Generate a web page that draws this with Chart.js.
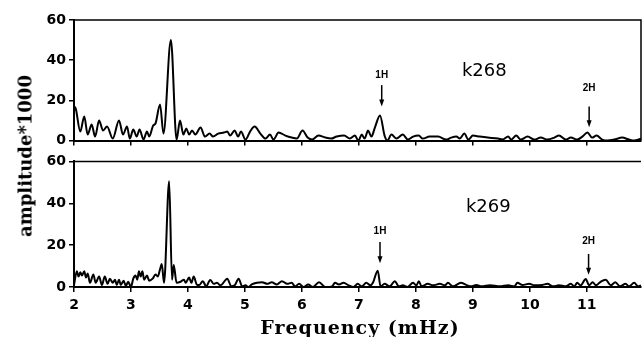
<!DOCTYPE html>
<html>
<head>
<meta charset="utf-8">
<script src="https://cdn.jsdelivr.net/npm/chart.js@4.4.1/dist/chart.umd.min.js"></script>
<style>
  body { margin: 0; background: #fff; width: 642px; height: 337px; position: relative; overflow: hidden; }
  canvas { position: absolute; left: 0; }
  #topChart { top: 0; }
  #botChart { top: 150px; }
  #ytitle { position: absolute; left: 25px; top: 156px; transform: translate(-50%, -50%) rotate(-90deg);
            font: bold 18px "DejaVu Serif"; white-space: nowrap; color: #000; }
  #xtitle { position: absolute; left: 360px; top: 327px; transform: translate(-50%, -50%);
            font: bold 19px "DejaVu Serif"; letter-spacing: 1px; white-space: nowrap; color: #000; }
</style>
</head>
<body>
<canvas id="topChart" width="642" height="152"></canvas>
<canvas id="botChart" width="642" height="187"></canvas>
<div id="ytitle">amplitude*1000</div>
<div id="xtitle">Frequency (mHz)</div>
<script>
// k268 spectrum (frequency in mHz, amplitude*1000)
const freqTop = [2.0, 2.03, 2.11, 2.18, 2.24, 2.31, 2.37, 2.44, 2.51, 2.58, 2.68, 2.79, 2.86, 2.93, 2.98,
  3.04, 3.10, 3.15, 3.22, 3.28, 3.32, 3.39, 3.43, 3.51, 3.57, 3.70, 3.80, 3.86, 3.92, 3.97,
  4.02, 4.07, 4.13, 4.22, 4.30, 4.38, 4.44, 4.53, 4.63, 4.69, 4.74, 4.82, 4.88, 4.93,
  5.01, 5.09, 5.17, 5.27, 5.36, 5.44, 5.50, 5.59, 5.71, 5.82, 5.91,
  6.01, 6.10, 6.18, 6.29, 6.41, 6.51, 6.61, 6.74, 6.84, 6.93, 6.99,
  7.05, 7.10, 7.16, 7.22, 7.28, 7.37, 7.45, 7.50, 7.57, 7.66, 7.77, 7.86, 7.95,
  8.05, 8.12, 8.24, 8.39, 8.53, 8.62, 8.71, 8.77, 8.85, 8.92,
  9.00, 9.12, 9.26, 9.44, 9.52, 9.62, 9.67, 9.76, 9.84, 9.96,
  10.08, 10.19, 10.31, 10.43, 10.51, 10.63, 10.72, 10.83, 10.92,
  11.01, 11.09, 11.17, 11.27, 11.36, 11.48, 11.62, 11.74, 11.83, 11.95];
const ampTop = [17, 16, 4.5, 12, 3, 8, 2, 10, 5, 7, 1, 10, 3, 7, 1,
  5.5, 2, 5.5, 0.5, 4.5, 2, 7.5, 8.5, 18, 3.5, 50, 0.5, 10, 3, 6,
  3, 5, 3, 6.5, 2, 3.5, 2, 3.5, 4, 4.5, 2.5, 5, 2, 4.5,
  0.5, 4.5, 7, 3.5, 1, 3, 0.5, 4, 2.5, 1.5, 1,
  5, 1.5, 0.5, 2.5, 1.5, 1, 2, 2.5, 1, 2.5, 0,
  3, 1, 5, 2, 6.5, 12.5, 2.5, 0, 3, 1, 3, 0.5, 2,
  2.5, 1, 2, 2, 0.5, 1.5, 2, 1, 3.5, 0.5,
  2.5, 2, 1.5, 1, 0.5, 2, 0.5, 2.5, 0.5, 2,
  0.5, 1.5, 0.5, 1.5, 2.5, 0.5, 1.5, 0.5, 2,
  4, 1.5, 2.5, 0.5, 0, 0.5, 1.5, 0.5, 0, 1];

// k269 spectrum
const freqBot = [2.0, 2.05, 2.08, 2.11, 2.14, 2.18, 2.21, 2.24, 2.28, 2.34, 2.38, 2.44, 2.49, 2.54, 2.59,
  2.63, 2.68, 2.72, 2.75, 2.79, 2.82, 2.87, 2.91, 2.95,
  3.0, 3.04, 3.08, 3.11, 3.14, 3.17, 3.20, 3.23, 3.28, 3.32, 3.38, 3.43, 3.47, 3.51, 3.54, 3.58,
  3.67, 3.72, 3.75, 3.80, 3.87, 3.93, 3.96,
  4.02, 4.06, 4.10, 4.16, 4.20, 4.26, 4.32, 4.39, 4.45, 4.51, 4.57, 4.69, 4.76, 4.82, 4.89, 4.95,
  5.01, 5.06, 5.12, 5.21, 5.30, 5.39, 5.47, 5.56, 5.65, 5.74, 5.82, 5.88, 5.95,
  6.03, 6.11, 6.19, 6.30, 6.41, 6.53, 6.58, 6.65, 6.73, 6.82, 6.90, 6.98,
  7.05, 7.13, 7.20, 7.25, 7.33, 7.38, 7.45, 7.54, 7.63, 7.70, 7.77, 7.85, 7.95,
  8.01, 8.05, 8.10, 8.21, 8.30, 8.42, 8.51, 8.56, 8.65, 8.79, 8.88, 8.97,
  9.06, 9.15, 9.30, 9.47, 9.62, 9.73, 9.78, 9.87, 9.99,
  10.08, 10.22, 10.31, 10.40, 10.51, 10.63, 10.72, 10.78, 10.83, 10.89, 10.98,
  11.04, 11.10, 11.16, 11.24, 11.33, 11.42, 11.50, 11.58, 11.68, 11.74, 11.83, 11.90, 11.95];
const ampBot = [1, 7.5, 5, 7, 5.5, 7.5, 4.5, 6.5, 2, 6, 2, 5, 1, 5, 1.5,
  4, 2, 3.5, 1, 3.5, 1, 3, 0.5, 2.5,
  0, 4, 5.5, 3.5, 7.5, 5, 7.5, 3.5, 5.5, 3, 4, 6, 5, 8.5, 11, 2,
  50.5, 3.5, 10.5, 2, 2.5, 3.5, 2,
  4.5, 2, 5, 1, 1, 2.8, 0.3, 3.4, 1.5, 2, 0.8, 4, 0.3, 0.8, 4, 0.3,
  0.8, 0, 1.2, 2, 2.3, 1.5, 2.3, 1.2, 2.8, 1.5, 2, 0.3, 1.5,
  0, 1.2, 0, 2.3, 0, 0.3, 2, 1.2, 2, 0.8, 0, 1.5,
  0.3, 2, 0.8, 2.3, 7.8, 0.3, 1.5, 0.3, 2.8, 0.3, 0.8, 0, 2,
  0.8, 2.8, 0.3, 1.5, 0.8, 1.5, 0.8, 2, 0.3, 2, 1, 0.3,
  1, 0.3, 0.8, 0.3, 0.8, 0.3, 2, 1, 1.5,
  0.8, 1, 1.5, 0.3, 0.8, 0.3, 1.5, 0.3, 2, 0.8, 3.8,
  0.8, 2.3, 0.8, 2.5, 3.5, 0.8, 2.3, 0.3, 1.5, 0.3, 2, 0.3, 0.8];

const yTicks = [0, 20, 40, 60];
const xTicks = [2, 3, 4, 5, 6, 7, 8, 9, 10, 11];

const tickFont = { family: 'DejaVu Sans', size: 14, weight: 'bold' };

// frame lines, run name and harmonic arrows
const marksPlugin = {
  id: 'marks',
  afterDatasetsDraw(chart, args, opts) {
    const { ctx, chartArea: a, scales: { x, y } } = chart;
    ctx.save();
    ctx.strokeStyle = '#000';
    ctx.fillStyle = '#000';
    ctx.lineWidth = 1.5;
    ctx.beginPath();
    ctx.moveTo(a.left, a.top);
    ctx.lineTo(a.right, a.top);
    if (opts.frameRight) ctx.lineTo(a.right, a.bottom);
    ctx.stroke();

    ctx.textAlign = 'center';
    ctx.textBaseline = 'middle';
    ctx.font = '18px "DejaVu Sans"';
    ctx.fillText(opts.name, x.getPixelForValue(opts.nameX), y.getPixelForValue(opts.nameY));

    ctx.font = 'bold 10px "Liberation Sans"';
    opts.arrows.forEach(m => {
      const px = x.getPixelForValue(m.f);
      const t = y.getPixelForValue(m.text);
      const y0 = y.getPixelForValue(m.from);
      const y1 = y.getPixelForValue(m.to);
      ctx.fillText(m.label, px, t);
      ctx.beginPath();
      ctx.moveTo(px, y0);
      ctx.lineTo(px, y1 - 5);
      ctx.stroke();
      ctx.beginPath();
      ctx.moveTo(px - 2.5, y1 - 7);
      ctx.lineTo(px + 2.5, y1 - 7);
      ctx.lineTo(px, y1);
      ctx.closePath();
      ctx.fill();
    });
    ctx.restore();
  }
};

function makePanel(id, freqs, amps, cfg) {
  return new Chart(document.getElementById(id), {
    type: 'line',
    data: {
      datasets: [{
        data: freqs.map((f, i) => ({ x: f, y: amps[i] })),
        borderColor: '#000',
        borderWidth: 2,
        pointRadius: 0,
        fill: false,
        cubicInterpolationMode: 'monotone'
      }]
    },
    options: {
      responsive: false,
      animation: false,
      layout: { padding: { top: cfg.padTop, right: 1, bottom: cfg.padBottom, left: 0 } },
      plugins: {
        legend: { display: false },
        tooltip: { enabled: false },
        marks: cfg.marks
      },
      scales: {
        x: {
          type: 'linear',
          min: 2,
          max: 11.95,
          afterBuildTicks: s => { s.ticks = xTicks.map(v => ({ value: v })); },
          afterFit: s => { s.height = cfg.xHeight; },
          ticks: { display: cfg.xLabels, color: '#000', font: tickFont, padding: 5, maxRotation: 0 },
          grid: { drawOnChartArea: false, drawTicks: true, tickLength: 5, color: '#000', lineWidth: 1.5 },
          border: { color: '#000', width: 2 }
        },
        y: {
          min: 0,
          max: 60,
          afterBuildTicks: s => { s.ticks = yTicks.map(v => ({ value: v })); },
          afterFit: s => { s.width = 74; },
          ticks: { color: '#000', font: tickFont, padding: 3 },
          grid: { drawOnChartArea: false, drawTicks: true, tickLength: 5, color: '#000', lineWidth: 1.5 },
          border: { color: '#000', width: 2 }
        }
      }
    },
    plugins: [marksPlugin]
  });
}

makePanel('topChart', freqTop, ampTop, {
  padTop: 20, padBottom: 1, xHeight: 5, xLabels: false,
  marks: {
    frameRight: true, name: 'k268', nameX: 9.2, nameY: 34.5,
    arrows: [
      { label: '1H', f: 7.40, text: 32.6, from: 27.6, to: 17 },
      { label: '2H', f: 11.04, text: 26, from: 17, to: 6.7 }
    ]
  }
});

makePanel('botChart', freqBot, ampBot, {
  padTop: 10, padBottom: 0, xHeight: 50, xLabels: true,
  marks: {
    frameRight: false, name: 'k269', nameX: 9.27, nameY: 38,
    arrows: [
      { label: '1H', f: 7.37, text: 26.8, from: 21.5, to: 11.4 },
      { label: '2H', f: 11.03, text: 21.9, from: 15.8, to: 5.9 }
    ]
  }
});
</script>
</body>
</html>
